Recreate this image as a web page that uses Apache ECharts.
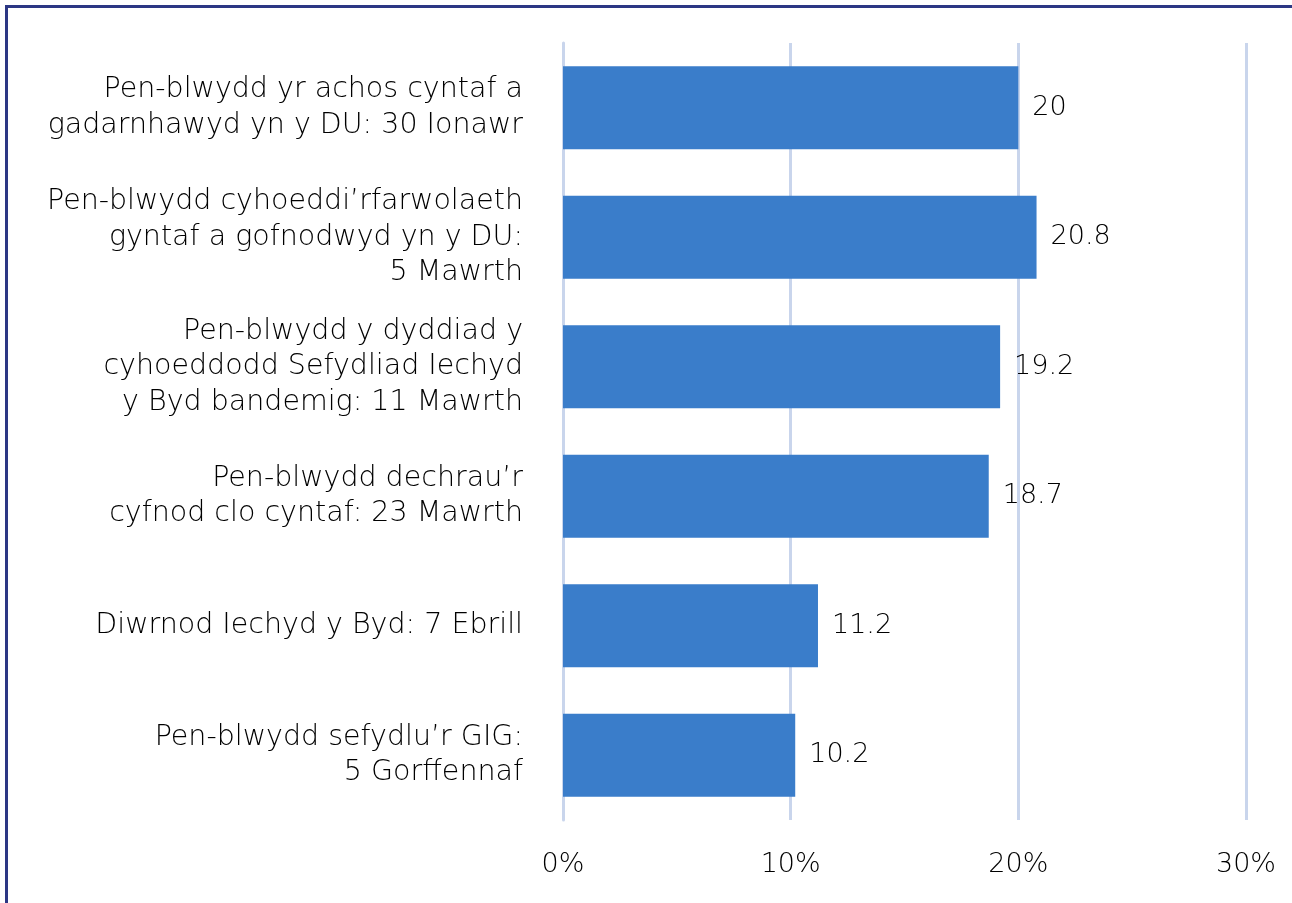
<!DOCTYPE html>
<html>
<head>
<meta charset="utf-8">
<script src="https://cdn.jsdelivr.net/npm/echarts@6/dist/echarts.min.js"></script>
<style>
  html, body { margin: 0; padding: 0; background: #fff; }
  #chart { width: 1292px; height: 903px; }
</style>
</head>
<body>
<div id="chart"></div>
<script>
var categories = [
  'Pen-blwydd yr achos cyntaf a\ngadarnhawyd yn y DU: 30 Ionawr',
  'Pen-blwydd cyhoeddi’rfarwolaeth\ngyntaf a gofnodwyd yn y DU:\n5 Mawrth',
  'Pen-blwydd y dyddiad y\ncyhoeddodd Sefydliad Iechyd\ny Byd bandemig: 11 Mawrth',
  'Pen-blwydd dechrau’r\ncyfnod clo cyntaf: 23 Mawrth',
  'Diwrnod Iechyd y Byd: 7 Ebrill',
  'Pen-blwydd sefydlu’r GIG:\n5 Gorffennaf'
]
var values = [20, 20.8, 19.2, 18.7, 11.2, 10.2]
var xTicks = [0, 10, 20, 30]

var font = '"DejaVu Sans", sans-serif'
var lineCol = '#c9d5ec'

var option = {
  animation: false,
  textStyle: { fontFamily: font },
  graphic: [{
    type: 'rect',
    shape: { x: 6.5, y: 6.5, width: 2000, height: 2000 },
    style: { fill: 'none', stroke: '#2c3784', lineWidth: 3 }
  }],
  grid: { left: 563, right: 46, top: 43, bottom: 83 },
  xAxis: {
    type: 'value',
    min: xTicks[0],
    max: xTicks[xTicks.length - 1],
    interval: 10,
    axisLine: { show: false },
    axisTick: { show: false },
    splitLine: { lineStyle: { color: lineCol, width: 3 } },
    axisLabel: {
      formatter: '{value}%',
      fontSize: 27,
      fontWeight: 300,
      color: '#000',
      margin: 31
    }
  },
  yAxis: {
    type: 'category',
    inverse: true,
    data: categories,
    axisLine: { lineStyle: { color: lineCol, width: 3 } },
    axisTick: { length: 8, lineStyle: { color: lineCol, width: 3 } },
    axisLabel: {
      fontSize: 28.5,
      fontWeight: 300,
      lineHeight: 35.5,
      color: '#000',
      margin: 40,
      align: 'right'
    }
  },
  series: [{
    type: 'bar',
    data: values,
    barWidth: 83,
    itemStyle: { color: '#3a7dca' },
    label: {
      show: true,
      position: 'right',
      distance: 14,
      fontSize: 27,
      fontWeight: 300,
      color: '#000'
    }
  }]
}

echarts.init(document.getElementById('chart')).setOption(option)
</script>
</body>
</html>
